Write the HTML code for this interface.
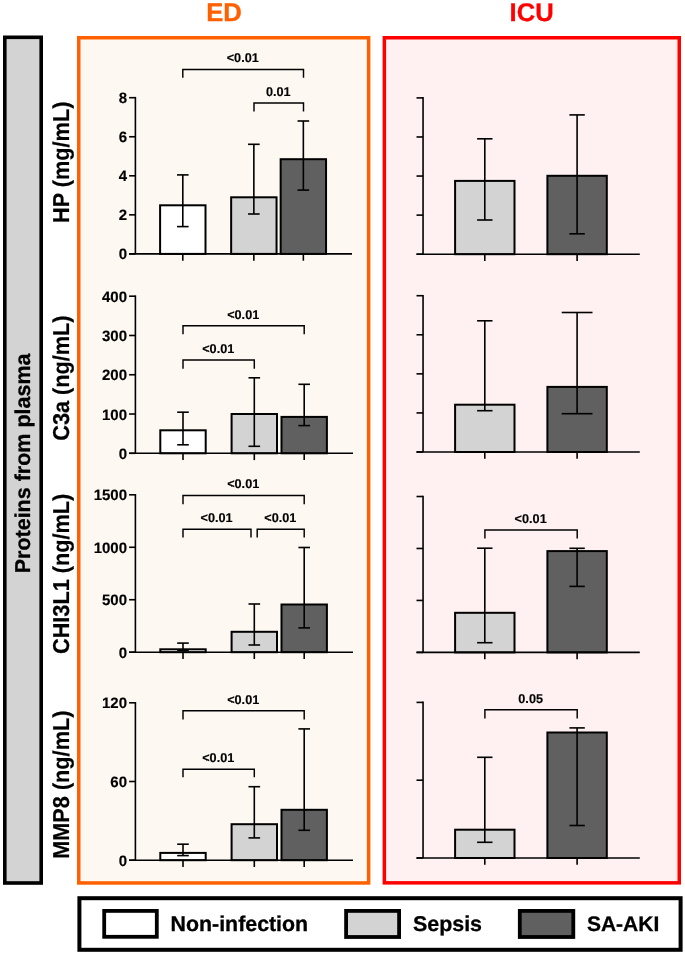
<!DOCTYPE html>
<html><head><meta charset="utf-8"><title>Plasma proteins ED vs ICU</title>
<style>
html,body{margin:0;padding:0;background:#fff;width:685px;height:955px;overflow:hidden}
svg{display:block;will-change:transform}
text{font-family:"Liberation Sans", sans-serif;font-weight:bold;text-rendering:geometricPrecision}
</style></head>
<body>
<svg width="685" height="955" viewBox="0 0 685 955">
<text x="224.00" y="20.70" text-anchor="middle" font-size="25.7" fill="#ff6000"  stroke="#ff6000" stroke-width="0.3">ED</text>
<text x="531.60" y="20.80" text-anchor="middle" font-size="25.6" fill="#ff0000"  stroke="#ff0000" stroke-width="0.3">ICU</text>
<rect x="4.80" y="37.30" width="36.40" height="845.70" fill="#d3d3d3" stroke="#000" stroke-width="3.6"/>
<text transform="translate(30.35,463.40) rotate(-90)" text-anchor="middle" font-size="21.5" fill="#000"  stroke="#000" stroke-width="0.3">Proteins from plasma</text>
<rect x="78.75" y="37.75" width="289.90" height="845.20" fill="#fdf8f1" stroke="#ff6000" stroke-width="3.5"/>
<rect x="384.35" y="37.75" width="294.90" height="845.10" fill="#fff1f1" stroke="#ff0000" stroke-width="3.5"/>
<rect x="79.40" y="898.20" width="601.20" height="51.60" fill="#fff" stroke="#000" stroke-width="4.0"/>
<rect x="104.20" y="910.90" width="52.60" height="25.90" fill="#fff" stroke="#000" stroke-width="3.8"/>
<rect x="346.10" y="910.90" width="53.00" height="26.10" fill="#d3d3d3" stroke="#000" stroke-width="3.8"/>
<rect x="519.80" y="910.90" width="53.50" height="26.10" fill="#606060" stroke="#000" stroke-width="3.8"/>
<text x="170.60" y="931.40" text-anchor="start" font-size="21.35" fill="#000"  stroke="#000" stroke-width="0.3">Non-infection</text>
<text x="413.00" y="931.40" text-anchor="start" font-size="21.4" fill="#000"  stroke="#000" stroke-width="0.3">Sepsis</text>
<text x="586.90" y="931.40" text-anchor="start" font-size="21.0" fill="#000"  stroke="#000" stroke-width="0.3">SA-AKI</text>
<rect x="160.10" y="205.30" width="45.40" height="48.60" fill="#fff" stroke="#000" stroke-width="2.0"/>
<rect x="231.15" y="197.30" width="45.40" height="56.60" fill="#d3d3d3" stroke="#000" stroke-width="2.0"/>
<rect x="280.65" y="159.20" width="45.40" height="94.70" fill="#606060" stroke="#000" stroke-width="2.0"/>
<line x1="182.80" y1="174.90" x2="182.80" y2="226.60" stroke="#000" stroke-width="1.6" stroke-linecap="butt"/>
<line x1="177.00" y1="174.90" x2="188.60" y2="174.90" stroke="#000" stroke-width="1.6" stroke-linecap="butt"/>
<line x1="177.00" y1="226.60" x2="188.60" y2="226.60" stroke="#000" stroke-width="1.6" stroke-linecap="butt"/>
<line x1="253.85" y1="144.30" x2="253.85" y2="214.00" stroke="#000" stroke-width="1.6" stroke-linecap="butt"/>
<line x1="248.05" y1="144.30" x2="259.65" y2="144.30" stroke="#000" stroke-width="1.6" stroke-linecap="butt"/>
<line x1="248.05" y1="214.00" x2="259.65" y2="214.00" stroke="#000" stroke-width="1.6" stroke-linecap="butt"/>
<line x1="303.35" y1="121.00" x2="303.35" y2="190.10" stroke="#000" stroke-width="1.6" stroke-linecap="butt"/>
<line x1="297.55" y1="121.00" x2="309.15" y2="121.00" stroke="#000" stroke-width="1.6" stroke-linecap="butt"/>
<line x1="297.55" y1="190.10" x2="309.15" y2="190.10" stroke="#000" stroke-width="1.6" stroke-linecap="butt"/>
<line x1="135.40" y1="96.90" x2="135.40" y2="253.90" stroke="#000" stroke-width="1.6" stroke-linecap="butt"/>
<line x1="129.10" y1="253.90" x2="352.00" y2="253.90" stroke="#000" stroke-width="1.6" stroke-linecap="butt"/>
<line x1="129.10" y1="253.90" x2="135.40" y2="253.90" stroke="#000" stroke-width="1.6" stroke-linecap="butt"/>
<text x="127.00" y="259.40" text-anchor="end" font-size="15" fill="#000"  stroke="#000" stroke-width="0.15">0</text>
<line x1="129.10" y1="214.85" x2="135.40" y2="214.85" stroke="#000" stroke-width="1.6" stroke-linecap="butt"/>
<text x="127.00" y="220.35" text-anchor="end" font-size="15" fill="#000"  stroke="#000" stroke-width="0.15">2</text>
<line x1="129.10" y1="175.80" x2="135.40" y2="175.80" stroke="#000" stroke-width="1.6" stroke-linecap="butt"/>
<text x="127.00" y="181.30" text-anchor="end" font-size="15" fill="#000"  stroke="#000" stroke-width="0.15">4</text>
<line x1="129.10" y1="136.75" x2="135.40" y2="136.75" stroke="#000" stroke-width="1.6" stroke-linecap="butt"/>
<text x="127.00" y="142.25" text-anchor="end" font-size="15" fill="#000"  stroke="#000" stroke-width="0.15">6</text>
<line x1="129.10" y1="97.70" x2="135.40" y2="97.70" stroke="#000" stroke-width="1.6" stroke-linecap="butt"/>
<text x="127.00" y="103.20" text-anchor="end" font-size="15" fill="#000"  stroke="#000" stroke-width="0.15">8</text>
<line x1="182.80" y1="253.90" x2="182.80" y2="260.70" stroke="#000" stroke-width="1.6" stroke-linecap="butt"/>
<line x1="253.85" y1="253.90" x2="253.85" y2="260.70" stroke="#000" stroke-width="1.6" stroke-linecap="butt"/>
<line x1="303.35" y1="253.90" x2="303.35" y2="260.70" stroke="#000" stroke-width="1.6" stroke-linecap="butt"/>
<polyline points="182.80,77.70 182.80,69.50 303.50,69.50 303.50,77.70" fill="none" stroke="#000" stroke-width="1.45"/>
<text x="242.75" y="62.30" text-anchor="middle" font-size="12.7" fill="#000"  stroke="#000" stroke-width="0.15">&lt;0.01</text>
<polyline points="254.00,111.60 254.00,103.00 303.50,103.00 303.50,111.60" fill="none" stroke="#000" stroke-width="1.45"/>
<text x="278.35" y="95.80" text-anchor="middle" font-size="12.7" fill="#000"  stroke="#000" stroke-width="0.15">0.01</text>
<text transform="translate(68.80,162.30) rotate(-90) scale(1,1.06)" text-anchor="middle" font-size="21.7" fill="#000"  stroke="#000" stroke-width="0.2">HP (mg/mL)</text>
<rect x="160.30" y="430.30" width="45.40" height="23.00" fill="#fff" stroke="#000" stroke-width="2.0"/>
<rect x="231.60" y="414.00" width="45.40" height="39.30" fill="#d3d3d3" stroke="#000" stroke-width="2.0"/>
<rect x="281.50" y="416.90" width="45.40" height="36.40" fill="#606060" stroke="#000" stroke-width="2.0"/>
<line x1="183.00" y1="412.20" x2="183.00" y2="444.80" stroke="#000" stroke-width="1.6" stroke-linecap="butt"/>
<line x1="177.20" y1="412.20" x2="188.80" y2="412.20" stroke="#000" stroke-width="1.6" stroke-linecap="butt"/>
<line x1="177.20" y1="444.80" x2="188.80" y2="444.80" stroke="#000" stroke-width="1.6" stroke-linecap="butt"/>
<line x1="254.30" y1="377.80" x2="254.30" y2="446.30" stroke="#000" stroke-width="1.6" stroke-linecap="butt"/>
<line x1="248.50" y1="377.80" x2="260.10" y2="377.80" stroke="#000" stroke-width="1.6" stroke-linecap="butt"/>
<line x1="248.50" y1="446.30" x2="260.10" y2="446.30" stroke="#000" stroke-width="1.6" stroke-linecap="butt"/>
<line x1="304.20" y1="384.30" x2="304.20" y2="425.60" stroke="#000" stroke-width="1.6" stroke-linecap="butt"/>
<line x1="298.40" y1="384.30" x2="310.00" y2="384.30" stroke="#000" stroke-width="1.6" stroke-linecap="butt"/>
<line x1="298.40" y1="425.60" x2="310.00" y2="425.60" stroke="#000" stroke-width="1.6" stroke-linecap="butt"/>
<line x1="135.40" y1="295.40" x2="135.40" y2="453.30" stroke="#000" stroke-width="1.6" stroke-linecap="butt"/>
<line x1="129.10" y1="453.30" x2="353.00" y2="453.30" stroke="#000" stroke-width="1.6" stroke-linecap="butt"/>
<line x1="129.10" y1="453.30" x2="135.40" y2="453.30" stroke="#000" stroke-width="1.6" stroke-linecap="butt"/>
<text x="127.00" y="458.80" text-anchor="end" font-size="15" fill="#000"  stroke="#000" stroke-width="0.15">0</text>
<line x1="129.10" y1="414.02" x2="135.40" y2="414.02" stroke="#000" stroke-width="1.6" stroke-linecap="butt"/>
<text x="127.00" y="419.52" text-anchor="end" font-size="15" fill="#000"  stroke="#000" stroke-width="0.15">100</text>
<line x1="129.10" y1="374.75" x2="135.40" y2="374.75" stroke="#000" stroke-width="1.6" stroke-linecap="butt"/>
<text x="127.00" y="380.25" text-anchor="end" font-size="15" fill="#000"  stroke="#000" stroke-width="0.15">200</text>
<line x1="129.10" y1="335.48" x2="135.40" y2="335.48" stroke="#000" stroke-width="1.6" stroke-linecap="butt"/>
<text x="127.00" y="340.98" text-anchor="end" font-size="15" fill="#000"  stroke="#000" stroke-width="0.15">300</text>
<line x1="129.10" y1="296.20" x2="135.40" y2="296.20" stroke="#000" stroke-width="1.6" stroke-linecap="butt"/>
<text x="127.00" y="301.70" text-anchor="end" font-size="15" fill="#000"  stroke="#000" stroke-width="0.15">400</text>
<line x1="183.00" y1="453.30" x2="183.00" y2="460.10" stroke="#000" stroke-width="1.6" stroke-linecap="butt"/>
<line x1="254.30" y1="453.30" x2="254.30" y2="460.10" stroke="#000" stroke-width="1.6" stroke-linecap="butt"/>
<line x1="304.20" y1="453.30" x2="304.20" y2="460.10" stroke="#000" stroke-width="1.6" stroke-linecap="butt"/>
<polyline points="183.00,334.20 183.00,325.70 304.20,325.70 304.20,334.20" fill="none" stroke="#000" stroke-width="1.45"/>
<text x="243.20" y="318.50" text-anchor="middle" font-size="12.7" fill="#000"  stroke="#000" stroke-width="0.15">&lt;0.01</text>
<polyline points="183.00,368.80 183.00,359.90 254.30,359.90 254.30,368.80" fill="none" stroke="#000" stroke-width="1.45"/>
<text x="218.25" y="352.70" text-anchor="middle" font-size="12.7" fill="#000"  stroke="#000" stroke-width="0.15">&lt;0.01</text>
<text transform="translate(68.80,378.10) rotate(-90) scale(1,1.06)" text-anchor="middle" font-size="21.7" fill="#000"  stroke="#000" stroke-width="0.2">C3a (ng/mL)</text>
<rect x="160.30" y="649.30" width="45.40" height="2.90" fill="#fff" stroke="#000" stroke-width="2.0"/>
<rect x="231.60" y="631.80" width="45.40" height="20.40" fill="#d3d3d3" stroke="#000" stroke-width="2.0"/>
<rect x="281.50" y="604.50" width="45.40" height="47.70" fill="#606060" stroke="#000" stroke-width="2.0"/>
<line x1="183.00" y1="643.10" x2="183.00" y2="650.50" stroke="#000" stroke-width="1.6" stroke-linecap="butt"/>
<line x1="177.20" y1="643.10" x2="188.80" y2="643.10" stroke="#000" stroke-width="1.6" stroke-linecap="butt"/>
<line x1="177.20" y1="650.50" x2="188.80" y2="650.50" stroke="#000" stroke-width="1.6" stroke-linecap="butt"/>
<line x1="254.30" y1="604.00" x2="254.30" y2="645.00" stroke="#000" stroke-width="1.6" stroke-linecap="butt"/>
<line x1="248.50" y1="604.00" x2="260.10" y2="604.00" stroke="#000" stroke-width="1.6" stroke-linecap="butt"/>
<line x1="248.50" y1="645.00" x2="260.10" y2="645.00" stroke="#000" stroke-width="1.6" stroke-linecap="butt"/>
<line x1="304.20" y1="547.50" x2="304.20" y2="627.90" stroke="#000" stroke-width="1.6" stroke-linecap="butt"/>
<line x1="298.40" y1="547.50" x2="310.00" y2="547.50" stroke="#000" stroke-width="1.6" stroke-linecap="butt"/>
<line x1="298.40" y1="627.90" x2="310.00" y2="627.90" stroke="#000" stroke-width="1.6" stroke-linecap="butt"/>
<line x1="135.40" y1="494.00" x2="135.40" y2="652.20" stroke="#000" stroke-width="1.6" stroke-linecap="butt"/>
<line x1="129.10" y1="652.20" x2="353.00" y2="652.20" stroke="#000" stroke-width="1.6" stroke-linecap="butt"/>
<line x1="129.10" y1="652.20" x2="135.40" y2="652.20" stroke="#000" stroke-width="1.6" stroke-linecap="butt"/>
<text x="127.00" y="657.70" text-anchor="end" font-size="15" fill="#000"  stroke="#000" stroke-width="0.15">0</text>
<line x1="129.10" y1="599.73" x2="135.40" y2="599.73" stroke="#000" stroke-width="1.6" stroke-linecap="butt"/>
<text x="127.00" y="605.23" text-anchor="end" font-size="15" fill="#000"  stroke="#000" stroke-width="0.15">500</text>
<line x1="129.10" y1="547.27" x2="135.40" y2="547.27" stroke="#000" stroke-width="1.6" stroke-linecap="butt"/>
<text x="127.00" y="552.77" text-anchor="end" font-size="15" fill="#000"  stroke="#000" stroke-width="0.15">1000</text>
<line x1="129.10" y1="494.80" x2="135.40" y2="494.80" stroke="#000" stroke-width="1.6" stroke-linecap="butt"/>
<text x="127.00" y="500.30" text-anchor="end" font-size="15" fill="#000"  stroke="#000" stroke-width="0.15">1500</text>
<line x1="183.00" y1="652.20" x2="183.00" y2="659.00" stroke="#000" stroke-width="1.6" stroke-linecap="butt"/>
<line x1="254.30" y1="652.20" x2="254.30" y2="659.00" stroke="#000" stroke-width="1.6" stroke-linecap="butt"/>
<line x1="304.20" y1="652.20" x2="304.20" y2="659.00" stroke="#000" stroke-width="1.6" stroke-linecap="butt"/>
<polyline points="183.00,504.20 183.00,495.40 304.20,495.40 304.20,504.20" fill="none" stroke="#000" stroke-width="1.45"/>
<text x="243.20" y="488.20" text-anchor="middle" font-size="12.7" fill="#000"  stroke="#000" stroke-width="0.15">&lt;0.01</text>
<polyline points="183.00,537.50 183.00,529.20 251.00,529.20 251.00,537.50" fill="none" stroke="#000" stroke-width="1.45"/>
<text x="216.60" y="522.00" text-anchor="middle" font-size="12.7" fill="#000"  stroke="#000" stroke-width="0.15">&lt;0.01</text>
<polyline points="257.20,537.50 257.20,529.20 304.20,529.20 304.20,537.50" fill="none" stroke="#000" stroke-width="1.45"/>
<text x="280.30" y="522.00" text-anchor="middle" font-size="12.7" fill="#000"  stroke="#000" stroke-width="0.15">&lt;0.01</text>
<text transform="translate(68.80,573.90) rotate(-90) scale(1,1.06)" text-anchor="middle" font-size="21.7" fill="#000"  stroke="#000" stroke-width="0.2">CHI3L1 (ng/mL)</text>
<rect x="160.30" y="852.90" width="45.40" height="7.30" fill="#fff" stroke="#000" stroke-width="2.0"/>
<rect x="231.60" y="824.20" width="45.40" height="36.00" fill="#d3d3d3" stroke="#000" stroke-width="2.0"/>
<rect x="281.50" y="809.80" width="45.40" height="50.40" fill="#606060" stroke="#000" stroke-width="2.0"/>
<line x1="183.00" y1="844.20" x2="183.00" y2="855.60" stroke="#000" stroke-width="1.6" stroke-linecap="butt"/>
<line x1="177.20" y1="844.20" x2="188.80" y2="844.20" stroke="#000" stroke-width="1.6" stroke-linecap="butt"/>
<line x1="177.20" y1="855.60" x2="188.80" y2="855.60" stroke="#000" stroke-width="1.6" stroke-linecap="butt"/>
<line x1="254.30" y1="786.70" x2="254.30" y2="837.90" stroke="#000" stroke-width="1.6" stroke-linecap="butt"/>
<line x1="248.50" y1="786.70" x2="260.10" y2="786.70" stroke="#000" stroke-width="1.6" stroke-linecap="butt"/>
<line x1="248.50" y1="837.90" x2="260.10" y2="837.90" stroke="#000" stroke-width="1.6" stroke-linecap="butt"/>
<line x1="304.20" y1="728.90" x2="304.20" y2="830.30" stroke="#000" stroke-width="1.6" stroke-linecap="butt"/>
<line x1="298.40" y1="728.90" x2="310.00" y2="728.90" stroke="#000" stroke-width="1.6" stroke-linecap="butt"/>
<line x1="298.40" y1="830.30" x2="310.00" y2="830.30" stroke="#000" stroke-width="1.6" stroke-linecap="butt"/>
<line x1="135.40" y1="702.00" x2="135.40" y2="860.20" stroke="#000" stroke-width="1.6" stroke-linecap="butt"/>
<line x1="129.10" y1="860.20" x2="353.00" y2="860.20" stroke="#000" stroke-width="1.6" stroke-linecap="butt"/>
<line x1="129.10" y1="860.20" x2="135.40" y2="860.20" stroke="#000" stroke-width="1.6" stroke-linecap="butt"/>
<text x="127.00" y="865.70" text-anchor="end" font-size="15" fill="#000"  stroke="#000" stroke-width="0.15">0</text>
<line x1="129.10" y1="781.50" x2="135.40" y2="781.50" stroke="#000" stroke-width="1.6" stroke-linecap="butt"/>
<text x="127.00" y="787.00" text-anchor="end" font-size="15" fill="#000"  stroke="#000" stroke-width="0.15">60</text>
<line x1="129.10" y1="702.80" x2="135.40" y2="702.80" stroke="#000" stroke-width="1.6" stroke-linecap="butt"/>
<text x="127.00" y="708.30" text-anchor="end" font-size="15" fill="#000"  stroke="#000" stroke-width="0.15">120</text>
<line x1="183.00" y1="860.20" x2="183.00" y2="867.00" stroke="#000" stroke-width="1.6" stroke-linecap="butt"/>
<line x1="254.30" y1="860.20" x2="254.30" y2="867.00" stroke="#000" stroke-width="1.6" stroke-linecap="butt"/>
<line x1="304.20" y1="860.20" x2="304.20" y2="867.00" stroke="#000" stroke-width="1.6" stroke-linecap="butt"/>
<polyline points="183.00,719.40 183.00,710.70 304.20,710.70 304.20,719.40" fill="none" stroke="#000" stroke-width="1.45"/>
<text x="243.20" y="703.50" text-anchor="middle" font-size="12.7" fill="#000"  stroke="#000" stroke-width="0.15">&lt;0.01</text>
<polyline points="183.00,777.20 183.00,769.30 254.30,769.30 254.30,777.20" fill="none" stroke="#000" stroke-width="1.45"/>
<text x="218.25" y="762.10" text-anchor="middle" font-size="12.7" fill="#000"  stroke="#000" stroke-width="0.15">&lt;0.01</text>
<text transform="translate(68.80,784.70) rotate(-90) scale(1,1.06)" text-anchor="middle" font-size="21.7" fill="#000"  stroke="#000" stroke-width="0.2">MMP8 (ng/mL)</text>
<rect x="455.10" y="180.90" width="59.40" height="73.30" fill="#d3d3d3" stroke="#000" stroke-width="2.0"/>
<rect x="547.40" y="175.80" width="59.40" height="78.40" fill="#606060" stroke="#000" stroke-width="2.0"/>
<line x1="484.80" y1="138.80" x2="484.80" y2="220.00" stroke="#000" stroke-width="1.6" stroke-linecap="butt"/>
<line x1="477.10" y1="138.80" x2="492.50" y2="138.80" stroke="#000" stroke-width="1.6" stroke-linecap="butt"/>
<line x1="477.10" y1="220.00" x2="492.50" y2="220.00" stroke="#000" stroke-width="1.6" stroke-linecap="butt"/>
<line x1="577.10" y1="114.90" x2="577.10" y2="233.80" stroke="#000" stroke-width="1.6" stroke-linecap="butt"/>
<line x1="569.40" y1="114.90" x2="584.80" y2="114.90" stroke="#000" stroke-width="1.6" stroke-linecap="butt"/>
<line x1="569.40" y1="233.80" x2="584.80" y2="233.80" stroke="#000" stroke-width="1.6" stroke-linecap="butt"/>
<line x1="423.05" y1="97.10" x2="423.05" y2="254.20" stroke="#000" stroke-width="1.6" stroke-linecap="butt"/>
<line x1="416.50" y1="254.20" x2="639.80" y2="254.20" stroke="#000" stroke-width="1.6" stroke-linecap="butt"/>
<line x1="416.50" y1="254.20" x2="423.05" y2="254.20" stroke="#000" stroke-width="1.6" stroke-linecap="butt"/>
<line x1="416.50" y1="215.12" x2="423.05" y2="215.12" stroke="#000" stroke-width="1.6" stroke-linecap="butt"/>
<line x1="416.50" y1="176.05" x2="423.05" y2="176.05" stroke="#000" stroke-width="1.6" stroke-linecap="butt"/>
<line x1="416.50" y1="136.97" x2="423.05" y2="136.97" stroke="#000" stroke-width="1.6" stroke-linecap="butt"/>
<line x1="416.50" y1="97.90" x2="423.05" y2="97.90" stroke="#000" stroke-width="1.6" stroke-linecap="butt"/>
<line x1="484.80" y1="254.20" x2="484.80" y2="261.00" stroke="#000" stroke-width="1.6" stroke-linecap="butt"/>
<line x1="577.10" y1="254.20" x2="577.10" y2="261.00" stroke="#000" stroke-width="1.6" stroke-linecap="butt"/>
<rect x="455.10" y="404.70" width="59.40" height="47.30" fill="#d3d3d3" stroke="#000" stroke-width="2.0"/>
<rect x="547.40" y="386.90" width="59.40" height="65.10" fill="#606060" stroke="#000" stroke-width="2.0"/>
<line x1="484.80" y1="320.80" x2="484.80" y2="410.70" stroke="#000" stroke-width="1.6" stroke-linecap="butt"/>
<line x1="477.10" y1="320.80" x2="492.50" y2="320.80" stroke="#000" stroke-width="1.6" stroke-linecap="butt"/>
<line x1="477.10" y1="410.70" x2="492.50" y2="410.70" stroke="#000" stroke-width="1.6" stroke-linecap="butt"/>
<line x1="577.10" y1="312.50" x2="577.10" y2="413.70" stroke="#000" stroke-width="1.6" stroke-linecap="butt"/>
<line x1="561.70" y1="312.50" x2="592.50" y2="312.50" stroke="#000" stroke-width="1.6" stroke-linecap="butt"/>
<line x1="561.70" y1="413.70" x2="592.50" y2="413.70" stroke="#000" stroke-width="1.6" stroke-linecap="butt"/>
<line x1="423.05" y1="294.90" x2="423.05" y2="452.00" stroke="#000" stroke-width="1.6" stroke-linecap="butt"/>
<line x1="416.50" y1="452.00" x2="639.80" y2="452.00" stroke="#000" stroke-width="1.6" stroke-linecap="butt"/>
<line x1="416.50" y1="452.00" x2="423.05" y2="452.00" stroke="#000" stroke-width="1.6" stroke-linecap="butt"/>
<line x1="416.50" y1="412.93" x2="423.05" y2="412.93" stroke="#000" stroke-width="1.6" stroke-linecap="butt"/>
<line x1="416.50" y1="373.85" x2="423.05" y2="373.85" stroke="#000" stroke-width="1.6" stroke-linecap="butt"/>
<line x1="416.50" y1="334.77" x2="423.05" y2="334.77" stroke="#000" stroke-width="1.6" stroke-linecap="butt"/>
<line x1="416.50" y1="295.70" x2="423.05" y2="295.70" stroke="#000" stroke-width="1.6" stroke-linecap="butt"/>
<line x1="484.80" y1="452.00" x2="484.80" y2="458.80" stroke="#000" stroke-width="1.6" stroke-linecap="butt"/>
<line x1="577.10" y1="452.00" x2="577.10" y2="458.80" stroke="#000" stroke-width="1.6" stroke-linecap="butt"/>
<rect x="455.10" y="612.80" width="59.40" height="39.60" fill="#d3d3d3" stroke="#000" stroke-width="2.0"/>
<rect x="547.40" y="551.10" width="59.40" height="101.30" fill="#606060" stroke="#000" stroke-width="2.0"/>
<line x1="484.80" y1="548.20" x2="484.80" y2="642.70" stroke="#000" stroke-width="1.6" stroke-linecap="butt"/>
<line x1="477.10" y1="548.20" x2="492.50" y2="548.20" stroke="#000" stroke-width="1.6" stroke-linecap="butt"/>
<line x1="477.10" y1="642.70" x2="492.50" y2="642.70" stroke="#000" stroke-width="1.6" stroke-linecap="butt"/>
<line x1="577.10" y1="548.30" x2="577.10" y2="586.40" stroke="#000" stroke-width="1.6" stroke-linecap="butt"/>
<line x1="569.40" y1="548.30" x2="584.80" y2="548.30" stroke="#000" stroke-width="1.6" stroke-linecap="butt"/>
<line x1="569.40" y1="586.40" x2="584.80" y2="586.40" stroke="#000" stroke-width="1.6" stroke-linecap="butt"/>
<line x1="423.05" y1="495.70" x2="423.05" y2="652.40" stroke="#000" stroke-width="1.6" stroke-linecap="butt"/>
<line x1="416.50" y1="652.40" x2="639.80" y2="652.40" stroke="#000" stroke-width="1.6" stroke-linecap="butt"/>
<line x1="416.50" y1="652.40" x2="423.05" y2="652.40" stroke="#000" stroke-width="1.6" stroke-linecap="butt"/>
<line x1="416.50" y1="600.43" x2="423.05" y2="600.43" stroke="#000" stroke-width="1.6" stroke-linecap="butt"/>
<line x1="416.50" y1="548.47" x2="423.05" y2="548.47" stroke="#000" stroke-width="1.6" stroke-linecap="butt"/>
<line x1="416.50" y1="496.50" x2="423.05" y2="496.50" stroke="#000" stroke-width="1.6" stroke-linecap="butt"/>
<line x1="484.80" y1="652.40" x2="484.80" y2="659.20" stroke="#000" stroke-width="1.6" stroke-linecap="butt"/>
<line x1="577.10" y1="652.40" x2="577.10" y2="659.20" stroke="#000" stroke-width="1.6" stroke-linecap="butt"/>
<polyline points="484.90,538.40 484.90,529.90 577.20,529.90 577.20,538.40" fill="none" stroke="#000" stroke-width="1.45"/>
<text x="530.65" y="522.70" text-anchor="middle" font-size="12.7" fill="#000"  stroke="#000" stroke-width="0.15">&lt;0.01</text>
<rect x="455.10" y="829.70" width="59.40" height="28.30" fill="#d3d3d3" stroke="#000" stroke-width="2.0"/>
<rect x="547.40" y="732.50" width="59.40" height="125.50" fill="#606060" stroke="#000" stroke-width="2.0"/>
<line x1="484.80" y1="757.30" x2="484.80" y2="842.30" stroke="#000" stroke-width="1.6" stroke-linecap="butt"/>
<line x1="477.10" y1="757.30" x2="492.50" y2="757.30" stroke="#000" stroke-width="1.6" stroke-linecap="butt"/>
<line x1="477.10" y1="842.30" x2="492.50" y2="842.30" stroke="#000" stroke-width="1.6" stroke-linecap="butt"/>
<line x1="577.10" y1="727.90" x2="577.10" y2="825.50" stroke="#000" stroke-width="1.6" stroke-linecap="butt"/>
<line x1="569.40" y1="727.90" x2="584.80" y2="727.90" stroke="#000" stroke-width="1.6" stroke-linecap="butt"/>
<line x1="569.40" y1="825.50" x2="584.80" y2="825.50" stroke="#000" stroke-width="1.6" stroke-linecap="butt"/>
<line x1="423.05" y1="701.60" x2="423.05" y2="858.00" stroke="#000" stroke-width="1.6" stroke-linecap="butt"/>
<line x1="416.50" y1="858.00" x2="639.80" y2="858.00" stroke="#000" stroke-width="1.6" stroke-linecap="butt"/>
<line x1="416.50" y1="858.00" x2="423.05" y2="858.00" stroke="#000" stroke-width="1.6" stroke-linecap="butt"/>
<line x1="416.50" y1="780.20" x2="423.05" y2="780.20" stroke="#000" stroke-width="1.6" stroke-linecap="butt"/>
<line x1="416.50" y1="702.40" x2="423.05" y2="702.40" stroke="#000" stroke-width="1.6" stroke-linecap="butt"/>
<line x1="484.80" y1="858.00" x2="484.80" y2="864.80" stroke="#000" stroke-width="1.6" stroke-linecap="butt"/>
<line x1="577.10" y1="858.00" x2="577.10" y2="864.80" stroke="#000" stroke-width="1.6" stroke-linecap="butt"/>
<polyline points="484.90,718.50 484.90,709.80 577.20,709.80 577.20,718.50" fill="none" stroke="#000" stroke-width="1.45"/>
<text x="530.65" y="702.60" text-anchor="middle" font-size="12.7" fill="#000"  stroke="#000" stroke-width="0.15">0.05</text>
</svg>
</body></html>
